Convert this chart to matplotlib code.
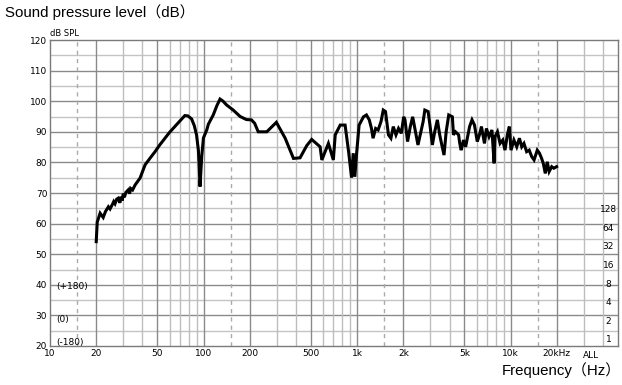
import numpy as np
import matplotlib
matplotlib.use("Agg")
import matplotlib.pyplot as plt

# ── Data ────────────────────────────────────────────────────────────────
freq = [20, 20.3, 20.6, 21.2, 22.2, 23, 24, 24.6, 25.5, 26.0, 26.5, 27.2, 27.8,
        28.5, 29.0, 29.5, 30.0, 30.5, 31.2, 32.3, 33.0, 33.5, 34.5, 35.8, 38.6,
        41.6, 45, 48.3, 52, 56.1, 60, 65, 70, 75.5, 79, 83.6, 87, 90, 92.5, 93.8,
        94.8, 95.8, 97.3, 99.8, 104.9, 107.5, 115.6, 122, 128, 134, 141, 156,
        173, 190, 205, 215, 227, 258, 298, 340, 385, 425, 470, 506, 574, 589,
        650, 700, 720, 776, 835, 880, 920, 943, 966, 990,
        1030, 1100, 1150, 1200, 1240, 1270, 1320, 1370, 1430, 1480, 1530, 1600,
        1660, 1720, 1790, 1860, 1940, 2010, 2050, 2130, 2220, 2300, 2400, 2490,
        2600, 2690, 2760, 2900, 2980, 3090, 3200, 3330, 3450, 3560, 3680, 3800,
        3950, 4170, 4240, 4370, 4580, 4660, 4760, 4930, 5090, 5400, 5600, 5810,
        6060, 6300, 6450, 6750, 6950, 7230, 7550, 7800, 7900, 8200, 8530, 8880,
        9180, 9510, 9800, 10050, 10500, 10950, 11400, 11800, 12200, 12700,
        13200, 13700, 14200, 14900, 15400, 15900, 16300, 16800, 17300, 17800,
        18500, 19100, 19900]
spl = [54.1, 60.5, 61.5, 63.4, 62.0, 64.0, 65.5, 64.8, 66.3, 67.2, 66.5, 68.0, 68.3,
       66.8, 68.8, 67.5, 69.8, 68.6, 70.2, 71.0, 69.8, 71.5, 71.0, 72.6, 74.9,
       79.2, 81.5, 83.5, 85.8, 87.9, 89.8, 91.7, 93.5, 95.3, 95.2, 94.2, 92.0, 89.0, 84.0, 78.0,
       72.1, 76.0, 82.0, 88.0, 90.6, 92.5, 95.5, 98.5, 100.7, 100.0, 98.8, 97.1,
       95.0, 94.0, 93.9, 92.8, 90.0, 90.0, 93.1, 87.9, 81.3, 81.5, 85.5, 87.5, 85.1, 80.8,
       86.2, 80.8, 89.0, 92.2, 92.2, 83.5, 75.0, 83.0, 75.3, 82.4,
       92.2, 94.9, 95.5, 93.9, 91.1, 87.9, 91.1, 90.6, 93.3, 97.1, 96.6, 89.0,
       87.9, 91.7, 89.0, 91.1, 89.5, 94.9, 93.9, 86.8, 91.7, 94.9, 90.0, 85.7,
       90.0, 93.3, 97.1, 96.6, 92.2, 85.7, 90.0, 93.9, 89.0, 85.7, 82.4, 90.0,
       95.5, 94.9, 89.0, 90.0, 89.0, 86.2, 84.0, 87.3, 85.1, 91.7, 93.9, 92.2,
       86.8, 89.5, 91.7, 86.2, 91.1, 88.4, 90.6, 79.7, 88.4, 90.0, 86.2, 87.3,
       84.0, 89.0, 91.7, 84.0, 87.3, 85.1, 87.9, 85.1, 86.2, 83.5,
       84.0, 81.9, 80.8, 84.0, 83.0, 81.3, 79.7, 76.4, 80.2, 77.0,
       78.6, 78.1, 78.6]

major_freqs = [20, 50, 100, 200, 500, 1000, 2000, 5000, 10000, 20000]
minor_freqs = [30, 40, 60, 70, 80, 90, 300, 400, 600, 700, 800, 900,
               3000, 4000, 6000, 7000, 8000, 9000, 30000, 40000]
dashed_freqs = [15, 150, 1500, 15000]
x_labels = ["10", "20", "50", "100", "200", "500", "1k", "2k", "5k", "10k", "20kHz"]
y_ticks = [20, 30, 40, 50, 60, 70, 80, 90, 100, 110, 120]
count_labels = ["128", "64", "32", "16", "8", "4", "2", "1"]
phase_labels = ["(+180)", "(0)", "(-180)"]

# ── Figure ──────────────────────────────────────────────────────────────
plt.rcParams["font.family"] = ["DejaVu Sans"]
fig = plt.figure(figsize=(6.22, 3.85), dpi=100)
ax = fig.add_axes([0.0804, 0.1013, 0.9132, 0.7948])
ax.set_xscale("log")
ax.set_xlim(10, 50000)
ax.set_ylim(20, 120)

# grid
for yv in np.arange(25, 120, 10):
    ax.axhline(yv, color="#c4c4c4", lw=1.0, zorder=1)
for yv in y_ticks[1:-1]:
    ax.axhline(yv, color="#8a8a8a", lw=1.0, zorder=1)
for fv in minor_freqs:
    ax.axvline(fv, color="#bdbdbd", lw=1.0, zorder=1)
for fv in major_freqs:
    ax.axvline(fv, color="#8a8a8a", lw=1.0, zorder=1)
for fv in dashed_freqs:
    ax.axvline(fv, color="#aaaaaa", lw=1.0, ls=(0, (3, 3)), zorder=1)

ax.plot(freq, spl, color="black", lw=2.2, solid_joinstyle="miter", zorder=3)

# ticks
ax.set_xticks([10] + major_freqs)
ax.set_xticklabels(x_labels, fontsize=6.5)
ax.xaxis.set_minor_locator(matplotlib.ticker.NullLocator())
ax.set_yticks(y_ticks)
ax.set_yticklabels([str(v) for v in y_ticks], fontsize=6.5)
ax.tick_params(length=0, pad=2)
ax.text(33500, 18.3, "ALL", ha="center", va="top", fontsize=6.5)

for sp in ax.spines.values():
    sp.set_color("#7a7a7a")
    sp.set_linewidth(1.0)

# right-side counts
for i, lab in enumerate(count_labels):
    ax.text(0.983, (64.5 - 6.07 * i - 20) / 100, lab, transform=ax.transAxes,
            ha="center", va="center", fontsize=6.5)
# left-side phase labels
for lab, yv in zip(phase_labels, [39.3, 28.5, 21.0]):
    ax.text(0.011, (yv - 20) / 100, lab, transform=ax.transAxes,
            ha="left", va="center", fontsize=6.5)

ax.text(0.0, 1.005, "dB SPL", transform=ax.transAxes, ha="left", va="bottom",
        fontsize=6)

cjk = ["Liberation Sans", "Noto Sans CJK JP"]
fig.text(0.008, 0.968, "Sound pressure level（dB）", ha="left", va="center",
         fontsize=10.8, family=cjk)
fig.text(0.998, 0.038, "Frequency（Hz）", ha="right", va="center",
         fontsize=10.8, family=cjk)

fig.savefig("out.png", dpi=100)
